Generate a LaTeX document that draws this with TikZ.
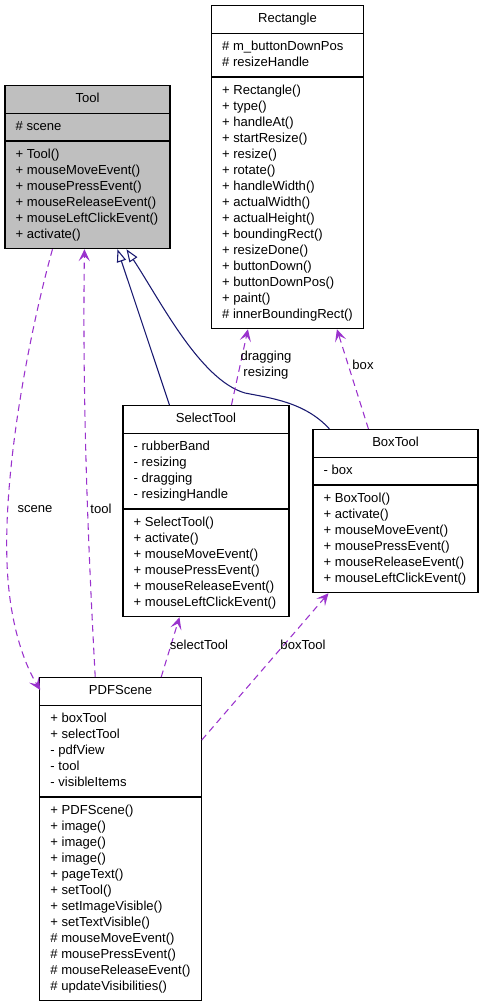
\documentclass[tikz,border=0pt]{standalone}
\usepackage{fontspec}
\setmainfont{Liberation Sans}
\usetikzlibrary{shapes,arrows.meta,calc}
\definecolor{usepurple}{HTML}{9A32CD}
\definecolor{inhnavy}{HTML}{191970}
\newcommand{\members}[1]{\begin{tabular}{@{}l@{}}#1\end{tabular}}

\begin{document}
\begin{tikzpicture}[x=0.75pt,y=-0.75pt]
        \tikzstyle{umlclass}=[rectangle split, rectangle split parts=3, rectangle split part align={center,left,left}, draw, fill=white, inner xsep=8pt, inner ysep=4pt, line width=0.8pt, font=\fontsize{9.8}{12}\selectfont, anchor=north]
        \tikzstyle{inherits}=[inhnavy, line width=0.8pt, -{Triangle[open,length=9.5pt,width=7pt]}]
        \tikzstyle{uses}=[usepurple, line width=0.8pt, dash pattern=on 5pt off 3.5pt, -{Stealth[length=9pt,width=8.5pt,inset=4pt]}]
        \tikzstyle{lbl}=[font=\fontsize{9.8}{12}\selectfont, inner sep=0pt]
        \useasboundingbox (0,0) rectangle (484,1003);
        \node[umlclass, fill=black!25, minimum width=123.75pt] (tool) at (87.5,85) {\strut Tool
            \nodepart{two} \members{\# scene}
            \nodepart{three} \members{+ Tool()\\+ mouseMoveEvent()\\+ mousePressEvent()\\+ mouseReleaseEvent()\\+ mouseLeftClickEvent()\\+ activate()}};
        \node[umlclass, minimum width=111.75pt] (rectangle) at (287.5,5) {\strut Rectangle
            \nodepart{two} \members{\# m\_buttonDownPos\\\# resizeHandle}
            \nodepart{three} \members{+ Rectangle()\\+ type()\\+ handleAt()\\+ startResize()\\+ resize()\\+ rotate()\\+ handleWidth()\\+ actualWidth()\\+ actualHeight()\\+ boundingRect()\\+ resizeDone()\\+ buttonDown()\\+ buttonDownPos()\\+ paint()\\\# innerBoundingRect()}};
        \node[umlclass, minimum width=124.5pt] (selecttool) at (206,405) {\strut SelectTool
            \nodepart{two} \members{- rubberBand\\- resizing\\- dragging\\- resizingHandle}
            \nodepart{three} \members{+ SelectTool()\\+ activate()\\+ mouseMoveEvent()\\+ mousePressEvent()\\+ mouseReleaseEvent()\\+ mouseLeftClickEvent()}};
        \node[umlclass, minimum width=123.75pt] (boxtool) at (395.5,429) {\strut BoxTool
            \nodepart{two} \members{- box}
            \nodepart{three} \members{+ BoxTool()\\+ activate()\\+ mouseMoveEvent()\\+ mousePressEvent()\\+ mouseReleaseEvent()\\+ mouseLeftClickEvent()}};
        \node[umlclass, minimum width=120.75pt] (pdfscene) at (120.5,677) {\strut PDFScene
            \nodepart{two} \members{+ boxTool\\+ selectTool\\- pdfView\\- tool\\- visibleItems}
            \nodepart{three} \members{+ PDFScene()\\+ image()\\+ image()\\+ image()\\+ pageText()\\+ setTool()\\+ setImageVisible()\\+ setTextVisible()\\\# mouseMoveEvent()\\\# mousePressEvent()\\\# mouseReleaseEvent()\\\# updateVisibilities()}};
        % inheritance
        \draw[inherits] ($(selecttool.north west)+(47,0)$) -- ($(tool.south west)+(113,0)$);
        \draw[inherits] ($(boxtool.north west)+(17,0)$) .. controls (305,402) and (270,398) .. (245,393) .. controls (200,380) and (160,300) .. ($(tool.south west)+(122,0)$);
        % usage
        \draw[uses] ($(tool.south west)+(48,0)$) .. controls (30,330) and (0,480) .. (8,580) .. controls (12,630) and (25,665) .. ($(pdfscene.north west)+(1,13)$);
        \draw[uses] ($(pdfscene.north west)+(56,0)$) .. controls (90,580) and (82,420) .. ($(tool.south west)+(80,0)$);
        \draw[uses] ($(selecttool.north west)+(109,0)$) -- ($(rectangle.south west)+(37,0)$);
        \draw[uses] ($(boxtool.north west)+(56,0)$) -- ($(rectangle.south west)+(126,0)$);
        \draw[uses] ($(pdfscene.north west)+(122,0)$) -- ($(selecttool.south west)+(57,0)$);
        \draw[uses] ($(pdfscene.north east)+(0,63)$) -- ($(boxtool.south west)+(16,0)$);
        \node[lbl] (lscene) at (35,509) {scene};
        \node[lbl] (ltool) at (101,509) {tool};
        \node[lbl, align=center] (ldrag) at (266,365) {dragging\\resizing};
        \node[lbl] (lbox) at (363,365) {box};
        \node[lbl] (lselect) at (199,645) {selectTool};
        \node[lbl] (lboxtool) at (303,645) {boxTool};
\end{tikzpicture}
\end{document}
